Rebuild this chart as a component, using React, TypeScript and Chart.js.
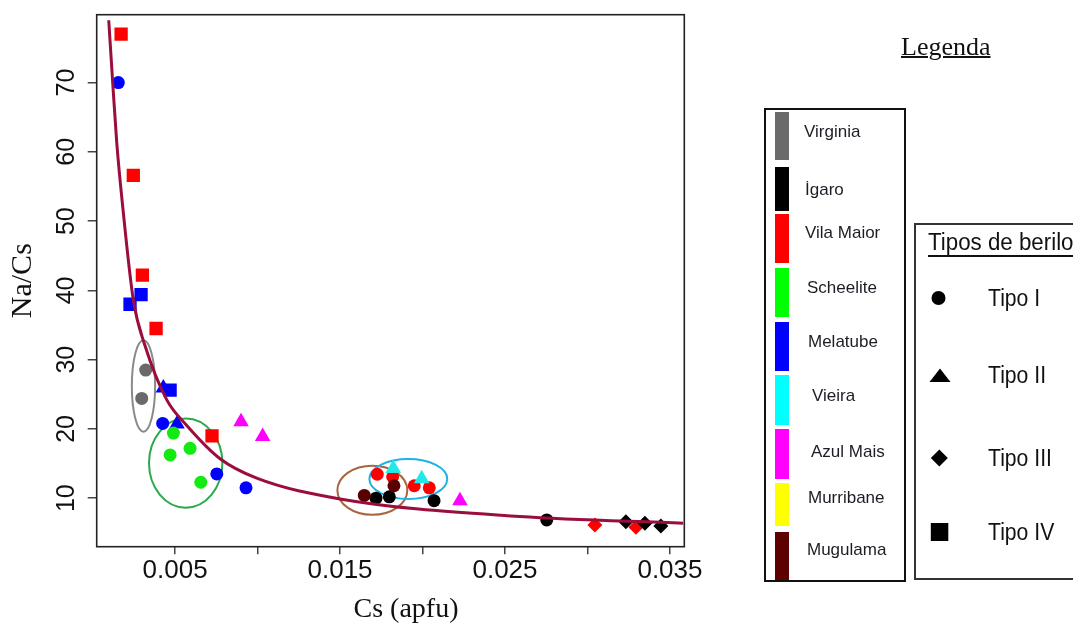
import React, { useEffect, useRef } from 'react';
import { Chart, registerables } from 'chart.js';

Chart.register(...registerables);

// ---------- data ----------
const xTickValues = [0.005, 0.01, 0.015, 0.02, 0.025, 0.03, 0.035];
const xTickLabels = ['0.005', '', '0.015', '', '0.025', '', '0.035'];
const yTickValues = [10, 20, 30, 40, 50, 60, 70];

// [Cs (apfu), Na/Cs]
const virginiaTipoI = [[0.00322, 28.5], [0.00298, 24.4]];
const igaroTipoI = [[0.01718, 10.0], [0.01799, 10.2], [0.0207, 9.65], [0.02753, 6.87]];
const igaroTipoIII = [[0.03233, 6.6], [0.03348, 6.4], [0.03445, 6.0]];
const vilaMaiorTipoI = [[0.01726, 13.46], [0.01819, 13.1], [0.0195, 11.8], [0.02041, 11.5]];
const vilaMaiorTipoIII = [[0.03045, 6.15], [0.03294, 5.8]];
const vilaMaiorTipoIV = [[0.00173, 77.0], [0.00247, 56.6], [0.00302, 42.2], [0.00385, 34.5], [0.00724, 19.0]];
const scheeliteTipoI = [[0.0049, 19.4], [0.00591, 17.2], [0.0047, 16.25], [0.00656, 12.3]];
const melatubeTipoI = [[0.00156, 70.0], [0.00425, 20.8], [0.00753, 13.5], [0.0093, 11.5]];
const melatubeTipoII = [[0.00429, 25.9], [0.00512, 20.7]];
const melatubeTipoIV = [[0.00294, 39.4], [0.00227, 38.0], [0.0047, 25.6]];
const vieiraTipoII = [[0.01823, 14.3], [0.01995, 12.8]];
const azulMaisTipoII = [[0.009, 21.05], [0.01031, 18.9], [0.02227, 9.65]];
const mugulamaTipoI = [[0.01647, 10.4], [0.01827, 11.8]];

// fitted curve
const fitCurveX = [0.00098, 0.00122, 0.00147, 0.00181, 0.00247, 0.00318, 0.0045, 0.00571, 0.00773, 0.00995, 0.015, 0.0259, 0.0358];
const fitCurveY = [79.0, 70.0, 61.2, 52.5, 38.6, 32.0, 24.2, 20.5, 15.7, 12.9, 9.9, 7.35, 6.4];

// group ellipses: [xMin, xMax, yMin, yMax]
const virginiaEllipse = [0.00238, 0.00379, 19.6, 32.8];
const scheeliteEllipse = [0.00342, 0.00787, 8.64, 21.5];
const mugulamaEllipse = [0.01484, 0.01908, 7.6, 14.7];
const vieiraEllipse = [0.01678, 0.0215, 9.9, 15.67];

// ---------- styles ----------
const ellipses = [virginiaEllipse, scheeliteEllipse, mugulamaEllipse, vieiraEllipse];
const ellipseColors = ['#8a8a8a', '#2aaa4a', '#a8663f', '#1eb2e6'];

const SANS = '"Liberation Sans", Arial, sans-serif';
const SERIF = '"Liberation Serif", "Times New Roman", serif';

const toPts = (arr: number[][]) => arr.map(([x, y]) => ({ x, y }));

function pointSet(data: number[][], color: string, shape: string) {
  const radius = shape === 'circle' ? 6.5 : shape === 'rect' ? 9.4 : shape === 'triangle' ? 9 : 7.5;
  return {
    data: toPts(data),
    pointStyle: shape,
    pointRadius: radius,
    pointBackgroundColor: color,
    pointBorderColor: color,
    pointBorderWidth: 0,
    showLine: false,
  };
}

const overlayPlugin = {
  id: 'overlay',
  beforeDatasetsDraw(chart: any) {
    const { ctx, scales } = chart;
    const xs = scales.x;
    const ys = scales.y;
    ctx.save();
    ellipses.forEach((e, i) => {
      const px0 = xs.getPixelForValue(e[0]);
      const px1 = xs.getPixelForValue(e[1]);
      const py0 = ys.getPixelForValue(e[2]);
      const py1 = ys.getPixelForValue(e[3]);
      ctx.beginPath();
      ctx.ellipse((px0 + px1) / 2, (py0 + py1) / 2, Math.abs(px1 - px0) / 2, Math.abs(py1 - py0) / 2, 0, 0, Math.PI * 2);
      ctx.strokeStyle = ellipseColors[i];
      ctx.lineWidth = 2;
      ctx.stroke();
    });
    ctx.restore();
  },
  afterDraw(chart: any) {
    const { ctx, chartArea } = chart;
    ctx.save();
    ctx.strokeStyle = '#222';
    ctx.lineWidth = 1.6;
    ctx.strokeRect(chartArea.left, chartArea.top, chartArea.right - chartArea.left, chartArea.bottom - chartArea.top);
    ctx.restore();
  },
};

// ---------- legend layout ----------
const localNames = ['Virginia', 'İgaro', 'Vila Maior', 'Scheelite', 'Melatube', 'Vieira', 'Azul Mais', 'Murribane', 'Mugulama'];
const localColors = ['#6a6a6a', '#000000', '#ff0000', '#00ff00', '#0000ff', '#00ffff', '#ff00ff', '#ffff00', '#5c0000'];
const barTops = [111.7, 166.7, 214.3, 267.7, 321.7, 375, 429.3, 483.3, 531.7];
const barBottoms = [160, 211, 263.3, 316.7, 370.7, 425, 479.3, 526, 580];
const labelLefts = [804, 805, 805, 807, 808, 812, 811, 808, 807];
const labelCenters = [132, 190, 233, 288, 342, 396, 452, 498, 550];

const typeNames = ['Tipo I', 'Tipo II', 'Tipo III', 'Tipo IV'];
const typeCenters = [298, 375, 458, 532];

const zeroPad = (s: any) => {
  s.paddingTop = 0;
  s.paddingBottom = 0;
  s.paddingLeft = 0;
  s.paddingRight = 0;
};

export default function App() {
  const ref = useRef<HTMLCanvasElement>(null);

  useEffect(() => {
    const canvas = ref.current;
    if (!canvas) return;
    const chart = new Chart(canvas, {
      type: 'scatter',
      data: {
        datasets: [
          {
            data: fitCurveX.map((x, i) => ({ x, y: fitCurveY[i] })),
            showLine: true,
            borderColor: '#9b0d3d',
            borderWidth: 3,
            pointRadius: 0,
            cubicInterpolationMode: 'monotone',
            fill: false,
          } as any,
          pointSet(virginiaTipoI, '#6a6a6a', 'circle'),
          pointSet(mugulamaTipoI, '#5a0000', 'circle'),
          pointSet(igaroTipoI, '#000000', 'circle'),
          pointSet(igaroTipoIII, '#000000', 'rectRot'),
          pointSet(vieiraTipoII, '#22e8e8', 'triangle'),
          pointSet(vilaMaiorTipoI, '#ff0000', 'circle'),
          pointSet(vilaMaiorTipoIII, '#ff0000', 'rectRot'),
          pointSet(vilaMaiorTipoIV, '#ff0000', 'rect'),
          pointSet(scheeliteTipoI, '#12ea12', 'circle'),
          pointSet(melatubeTipoI, '#0000ff', 'circle'),
          pointSet(melatubeTipoII, '#0000ff', 'triangle'),
          pointSet(melatubeTipoIV, '#0000ff', 'rect'),
          pointSet(azulMaisTipoII, '#ff00ff', 'triangle'),
        ],
      },
      options: {
        animation: false,
        responsive: false,
        devicePixelRatio: 1,
        layout: { padding: { left: 0, top: 14.7, right: 388.7, bottom: 0 } },
        plugins: { legend: { display: false }, tooltip: { enabled: false } },
        scales: {
          x: {
            type: 'linear',
            min: 0.00025,
            max: 0.03587,
            afterFit: (s: any) => { s.height = 80.3; zeroPad(s); },
            afterBuildTicks: (s: any) => { s.ticks = xTickValues.map((v) => ({ value: v })); },
            ticks: {
              callback: (_v: any, i: number) => xTickLabels[i],
              font: { family: SANS, size: 26 },
              color: '#111',
              padding: 1.5,
              maxRotation: 0,
              minRotation: 0,
              autoSkip: false,
            },
            grid: { drawOnChartArea: false, drawTicks: true, tickLength: 7.5, color: '#444', lineWidth: 1.5 },
            border: { display: false },
          },
          y: {
            type: 'linear',
            min: 3.0,
            max: 79.8,
            afterFit: (s: any) => { s.width = 96.7; zeroPad(s); },
            afterBuildTicks: (s: any) => { s.ticks = yTickValues.map((v) => ({ value: v })); },
            ticks: {
              callback: (v: any) => String(v),
              font: { family: SANS, size: 25 },
              color: '#111',
              padding: 6.3,
              minRotation: 90,
              maxRotation: 90,
              crossAlign: 'center',
              autoSkip: false,
            },
            grid: { drawOnChartArea: false, drawTicks: true, tickLength: 9, color: '#444', lineWidth: 1.5 },
            border: { display: false },
            title: {
              display: true,
              text: 'Na/Cs',
              font: { family: SERIF, size: 30, weight: 'normal' },
              color: '#111',
              padding: { top: 5.5, bottom: 0 },
            },
          },
        },
      } as any,
      plugins: [overlayPlugin],
    });
    return () => chart.destroy();
  }, []);

  const condensed = { transform: 'scaleX(0.92)', transformOrigin: 'left center' };

  return (
    <div style={{ position: 'fixed', left: 0, top: 0, width: 1073, height: 627, overflow: 'hidden', background: '#fff' }}>
      <canvas ref={ref} width={1073} height={627} style={{ position: 'absolute', left: 0, top: 0 }} />

      {/* x axis title */}
      <div style={{ position: 'absolute', left: 306, width: 200, top: 590, height: 36, lineHeight: '36px', textAlign: 'center', fontFamily: SERIF, fontSize: 28, color: '#111' }}>
        Cs (apfu)
      </div>

      {/* Legenda title */}
      <div style={{ position: 'absolute', left: 901, top: 34, fontFamily: SERIF, fontSize: 26, lineHeight: '26px', color: '#111', textDecoration: 'underline', textDecorationThickness: '1.5px', whiteSpace: 'nowrap' }}>
        Legenda
      </div>

      {/* location legend box */}
      <div style={{ position: 'absolute', left: 764, top: 108, width: 142, height: 474, border: '2px solid #111', boxSizing: 'border-box' }} />
      {localNames.map((name, i) => (
        <React.Fragment key={name}>
          <div style={{ position: 'absolute', left: 775, width: 14, top: barTops[i], height: barBottoms[i] - barTops[i], background: localColors[i] }} />
          <div style={{ position: 'absolute', left: labelLefts[i], top: labelCenters[i] - 12, height: 24, lineHeight: '24px', fontFamily: SANS, fontSize: 17, color: '#1c1c24', whiteSpace: 'nowrap' }}>
            {name}
          </div>
        </React.Fragment>
      ))}

      {/* type legend box */}
      <div style={{ position: 'absolute', left: 914, top: 223, width: 200, height: 357, border: '2px solid #333', boxSizing: 'border-box' }} />
      <div style={{ position: 'absolute', left: 928, top: 228, height: 28, lineHeight: '28px', fontFamily: SANS, fontSize: 23, color: '#111', whiteSpace: 'nowrap', textDecoration: 'underline', textDecorationThickness: '2px', textUnderlineOffset: '5px', transform: 'scaleX(0.97)', transformOrigin: 'left center' }}>
        Tipos de berilo
      </div>
      <svg width={1073} height={627} style={{ position: 'absolute', left: 0, top: 0, pointerEvents: 'none' }}>
        <circle cx={938.5} cy={typeCenters[0]} r={7} fill="#000" />
        <polygon points={`929.5,${typeCenters[1] + 7} 950.5,${typeCenters[1] + 7} 940,${typeCenters[1] - 6.5}`} fill="#000" />
        <polygon points={`939.3,${typeCenters[2] - 8.5} 947.8,${typeCenters[2]} 939.3,${typeCenters[2] + 8.5} 930.8,${typeCenters[2]}`} fill="#000" />
        <rect x={930.8} y={typeCenters[3] - 9} width={17.5} height={18} fill="#000" />
      </svg>
      {typeNames.map((name, i) => (
        <div key={name} style={{ position: 'absolute', left: 988, top: typeCenters[i] - 15, height: 30, lineHeight: '30px', fontFamily: SANS, fontSize: 23, color: '#111', whiteSpace: 'nowrap', ...condensed }}>
          {name}
        </div>
      ))}
    </div>
  );
}
